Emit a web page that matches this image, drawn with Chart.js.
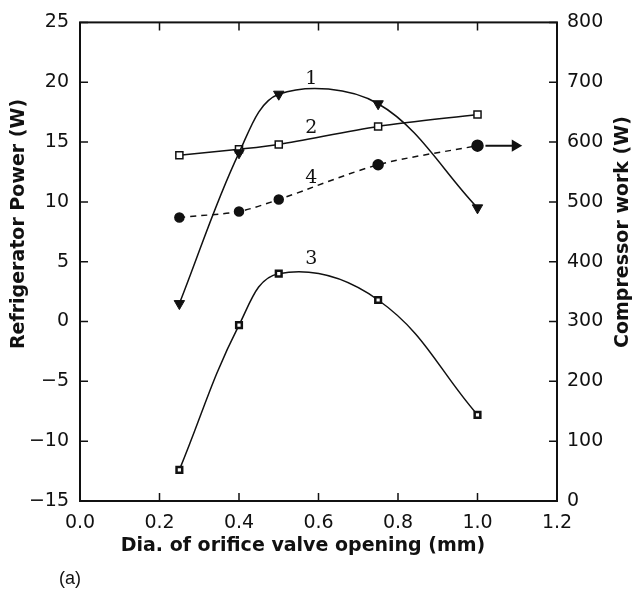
<!DOCTYPE HTML>
<html lang="en">
<head>
    <meta charset="utf-8">
    <title>Orifice valve opening</title>
    <script src="https://cdn.jsdelivr.net/npm/chart.js@4.4.1/dist/chart.umd.min.js"></script>
    <style>
        body {
            margin: 0;
            background: #fff;
        }

        #chart-box {
            width: 634px;
            height: 592px;
        }
    </style>
</head>
<body>
    <div id="chart-box">
        <canvas id="valve-chart"></canvas>
    </div>

    <script>
        // orifice diameters (mm)
        const xValues = [0.25, 0.4, 0.5, 0.75, 1.0];
        // refrigerator power (W), left axis
        const curve1 = [1.5, 14.1, 19.0, 18.2, 9.5];
        const curve2 = [13.9, 14.4, 14.8, 16.3, 17.3];
        const curve3 = [-12.4, -0.3, 4.0, 1.8, -7.8];
        // compressor work (W), right axis
        const curve4 = [474, 484, 504, 562, 594];
        // arrow pointing at the right axis
        const arrowX = [1.02, 1.095];
        const arrowY = [594, 594];
        // curve numbers written next to the lines
        const curveNames = ['1', '2', '3', '4'];
        const curveNameX = [0.582, 0.582, 0.582, 0.582];
        const curveNameY = [20.3, 16.2, 5.2, 12.0];

        const ink = '#111';

        function toPoints(xs, ys) {
            return xs.map((x, i) => ({ x: x, y: ys[i] }));
        }

        // box around the plot, ticks pointing inwards, titles and curve numbers
        const framePlugin = {
            id: 'frame',
            afterDraw(chart) {
                const ctx = chart.ctx;
                const area = chart.chartArea;
                const x = chart.scales.x, y = chart.scales.y, y1 = chart.scales.y1;
                const tick = 8;

                ctx.save();
                ctx.strokeStyle = ink;
                ctx.lineWidth = 2;
                ctx.strokeRect(area.left, area.top, area.right - area.left, area.bottom - area.top);

                ctx.lineWidth = 1.5;
                ctx.beginPath();
                x.ticks.forEach(t => {
                    const px = x.getPixelForValue(t.value);
                    ctx.moveTo(px, area.bottom);
                    ctx.lineTo(px, area.bottom - tick);
                    ctx.moveTo(px, area.top);
                    ctx.lineTo(px, area.top + tick);
                });
                y.ticks.forEach(t => {
                    const py = y.getPixelForValue(t.value);
                    ctx.moveTo(area.left, py);
                    ctx.lineTo(area.left + tick, py);
                });
                y1.ticks.forEach(t => {
                    const py = y1.getPixelForValue(t.value);
                    ctx.moveTo(area.right, py);
                    ctx.lineTo(area.right - tick, py);
                });
                ctx.stroke();

                ctx.fillStyle = ink;
                ctx.textAlign = 'center';
                ctx.textBaseline = 'middle';

                // curve numbers
                ctx.font = '19px "DejaVu Serif"';
                curveNames.forEach((name, i) => {
                    ctx.fillText(name, x.getPixelForValue(curveNameX[i]), y.getPixelForValue(curveNameY[i]));
                });

                // axis titles
                ctx.font = 'bold 19px "DejaVu Sans"';
                ctx.fillText('Dia. of orifice valve opening (mm)', 303, 546);

                ctx.save();
                ctx.translate(19, 224);
                ctx.rotate(-Math.PI / 2);
                ctx.fillText('Refrigerator Power (W)', 0, 0);
                ctx.restore();

                ctx.save();
                ctx.translate(623, 232);
                ctx.rotate(-Math.PI / 2);
                ctx.fillText('Compressor work (W)', 0, 0);
                ctx.restore();

                ctx.font = '18px "Liberation Sans"';
                ctx.textAlign = 'left';
                ctx.fillText('(a)', 59, 579);
                ctx.restore();
            }
        };

        const tickFont = { family: 'DejaVu Sans', size: 19 };
        const noGrid = { display: false, drawTicks: false };

        new Chart(document.getElementById('valve-chart').getContext('2d'), {
            type: 'line',
            data: {
                datasets: [{
                    label: '1',
                    data: toPoints(xValues, curve1),
                    yAxisID: 'y',
                    borderColor: ink,
                    backgroundColor: ink,
                    borderWidth: 1.5,
                    tension: 0.35,
                    pointStyle: 'triangle',
                    rotation: 180,
                    pointRadius: 6,
                    pointBorderWidth: 1
                }, {
                    label: '2',
                    data: toPoints(xValues, curve2),
                    yAxisID: 'y',
                    borderColor: ink,
                    backgroundColor: '#fff',
                    borderWidth: 1.5,
                    tension: 0.3,
                    pointStyle: 'rect',
                    pointRadius: 5,
                    pointBorderWidth: 1.5
                }, {
                    label: '3',
                    data: toPoints(xValues, curve3),
                    yAxisID: 'y',
                    borderColor: ink,
                    backgroundColor: '#fff',
                    borderWidth: 1.5,
                    tension: 0.4,
                    pointStyle: 'rect',
                    pointRadius: 4,
                    pointBorderWidth: 2.5
                }, {
                    label: '4',
                    data: toPoints(xValues, curve4),
                    yAxisID: 'y1',
                    borderColor: ink,
                    backgroundColor: ink,
                    borderWidth: 1.5,
                    borderDash: [6, 5],
                    tension: 0.3,
                    pointStyle: 'circle',
                    pointRadius: [4.5, 4.5, 4.5, 5, 5.5]
                }, {
                    label: 'arrow',
                    data: toPoints(arrowX, arrowY),
                    yAxisID: 'y1',
                    borderColor: ink,
                    backgroundColor: ink,
                    borderWidth: 2,
                    pointStyle: 'triangle',
                    rotation: 90,
                    pointRadius: [0, 5]
                }]
            },
            options: {
                responsive: true,
                maintainAspectRatio: false,
                animation: false,
                layout: {
                    padding: { top: 19, left: 0, right: 0, bottom: 0 }
                },
                plugins: {
                    legend: { display: false },
                    tooltip: { enabled: false }
                },
                scales: {
                    x: {
                        type: 'linear',
                        min: 0,
                        max: 1.2,
                        grid: noGrid,
                        border: { display: false },
                        ticks: {
                            stepSize: 0.2,
                            padding: 11,
                            color: ink,
                            font: tickFont,
                            maxRotation: 0,
                            callback: v => v.toFixed(1)
                        },
                        afterFit: s => { s.height = 91; }
                    },
                    y: {
                        position: 'left',
                        min: -15,
                        max: 25,
                        grid: noGrid,
                        border: { display: false },
                        ticks: {
                            stepSize: 5,
                            padding: 11,
                            color: ink,
                            font: tickFont,
                            callback: v => String(v).replace('-', '\u2212')
                        },
                        afterFit: s => { s.width = 80; }
                    },
                    y1: {
                        position: 'right',
                        min: 0,
                        max: 800,
                        grid: noGrid,
                        border: { display: false },
                        ticks: {
                            stepSize: 100,
                            padding: 10,
                            color: ink,
                            font: tickFont
                        },
                        afterFit: s => { s.width = 77; }
                    }
                }
            },
            plugins: [framePlugin]
        });
    </script>
</body>
</html>
